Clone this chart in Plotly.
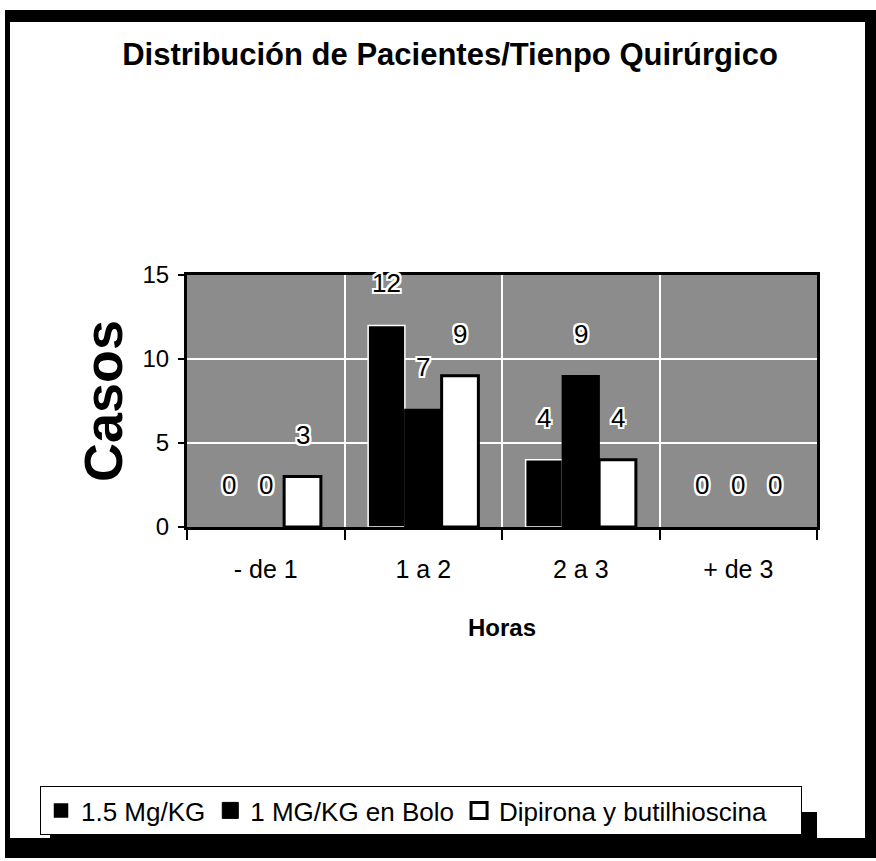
import plotly.graph_objects as go

categories = ["- de 1", "1 a 2", "2 a 3", "+ de 3"]
series_names = ["1.5 Mg/KG", "1 MG/KG en Bolo", "Dipirona y butilhioscina"]
s1 = [0, 12, 4, 0]
s2 = [0, 7, 9, 0]
s3 = [3, 9, 4, 0]
y_ticks = [0, 5, 10, 15]

W, H = 876, 861
L, R, T, B = 187, 59, 275, 334
BARGAP = 0.3
FONT = "Liberation Sans, Arial, sans-serif"

fig = go.Figure()
fills = ["black", "black", "white"]
lines = [("white", 1.5), ("black", 1.5), ("black", 3)]
for name, vals, fc, (lc, lw) in zip(series_names, [s1, s2, s3], fills, lines):
    fig.add_trace(go.Bar(
        x=categories, y=vals, name=name, showlegend=False,
        marker=dict(color=fc, line=dict(color=lc, width=[lw if v > 0 else 0 for v in vals])),
    ))
# legend proxies (larger square symbols)
leg_styles = [
    dict(color="black", line=dict(color="white", width=1.5)),
    dict(color="black", line=dict(color="black", width=1)),
    dict(color="white", line=dict(color="black", width=3)),
]
leg_pad = ["", "", "\u00a0\u00a0\u00a0\u00a0"]
for name, st, pad in zip(series_names, leg_styles, leg_pad):
    fig.add_trace(go.Scatter(
        x=[None], y=[None], mode="markers", name=name + pad,
        marker=dict(symbol="square", size=18, **st),
    ))

plot_w = W - L - R
plot_h = H - T - B
cat_px = plot_w / len(categories)
bar_px = cat_px * (1 - BARGAP) / 3

def px_x(p):
    return (p - L) / plot_w

def px_y(p):
    return (H - B - p) / plot_h

halo = ", ".join(f"{dx}px {dy}px 0 #fff" for dx in (-2, 0, 2) for dy in (-2, 0, 2) if dx or dy)
annotations = []
for i, vals in enumerate([s1, s2, s3]):
    for c, v in zip(categories, vals):
        annotations.append(dict(
            x=c, y=v, xref="x", yref="y", text=str(v), showarrow=False,
            xshift=(i - 1) * bar_px, yshift=42,
            font=dict(family=FONT, size=26, color="black", shadow=halo),
        ))

def band(x0, y0, x1, y1):
    return dict(type="rect", xref="paper", yref="paper", layer="below",
                x0=px_x(x0), x1=px_x(x1), y0=px_y(y1), y1=px_y(y0),
                fillcolor="black", line=dict(width=0))

shapes = [
    band(5, 10, 876, 22),     # top
    band(5, 10, 10, 858),     # left
    band(865, 10, 876, 858),  # right
    band(5, 838, 876, 858),   # bottom
    band(50, 812, 817, 858),  # legend drop shadow
]

fig.update_layout(
    width=W, height=H,
    margin=dict(l=L, r=R, t=T, b=B),
    paper_bgcolor="white",
    plot_bgcolor="#8c8c8c",
    barmode="group", bargap=BARGAP, bargroupgap=0,
    font=dict(family=FONT, color="black"),
    title=dict(text="<b>Distribución de Pacientes/Tienpo Quirúrgico</b>",
               x=450 / W, xref="container", xanchor="center",
               y=1 - 54 / H, yref="container", yanchor="middle",
               font=dict(family=FONT, size=31, color="black")),
    showlegend=True,
    legend=dict(orientation="h", x=px_x(40), xanchor="left",
                y=px_y(786), yanchor="top",
                bgcolor="white", bordercolor="black", borderwidth=1,
                font=dict(family=FONT, size=26, color="black"),
                itemwidth=30, tracegroupgap=0),
    annotations=annotations,
    shapes=shapes,
)
fig.update_xaxes(
    showline=True, linecolor="black", linewidth=3, mirror=True,
    ticks="outside", tickson="boundaries", ticklen=10, tickcolor="black", tickwidth=1.5,
    showgrid=True, gridcolor="white", gridwidth=2,
    tickfont=dict(family=FONT, size=25, color="black"),
    ticklabelstandoff=18,
    title=dict(text="<b>Horas</b>", font=dict(family=FONT, size=24, color="black"), standoff=38),
)
fig.update_yaxes(
    range=[0, 15], tickvals=y_ticks,
    showline=True, linecolor="black", linewidth=3, mirror=True,
    ticks="outside", ticklen=6, tickcolor="black", tickwidth=1.5,
    showgrid=True, gridcolor="white", gridwidth=2, zeroline=False,
    tickfont=dict(family=FONT, size=24, color="black"),
    ticklabelstandoff=4,
    title=dict(text="<b>Casos</b>", font=dict(family=FONT, size=54, color="black"), standoff=3),
)

fig.write_html("out.html", config={"displayModeBar": False},
               post_script="document.body.style.margin='0';")
